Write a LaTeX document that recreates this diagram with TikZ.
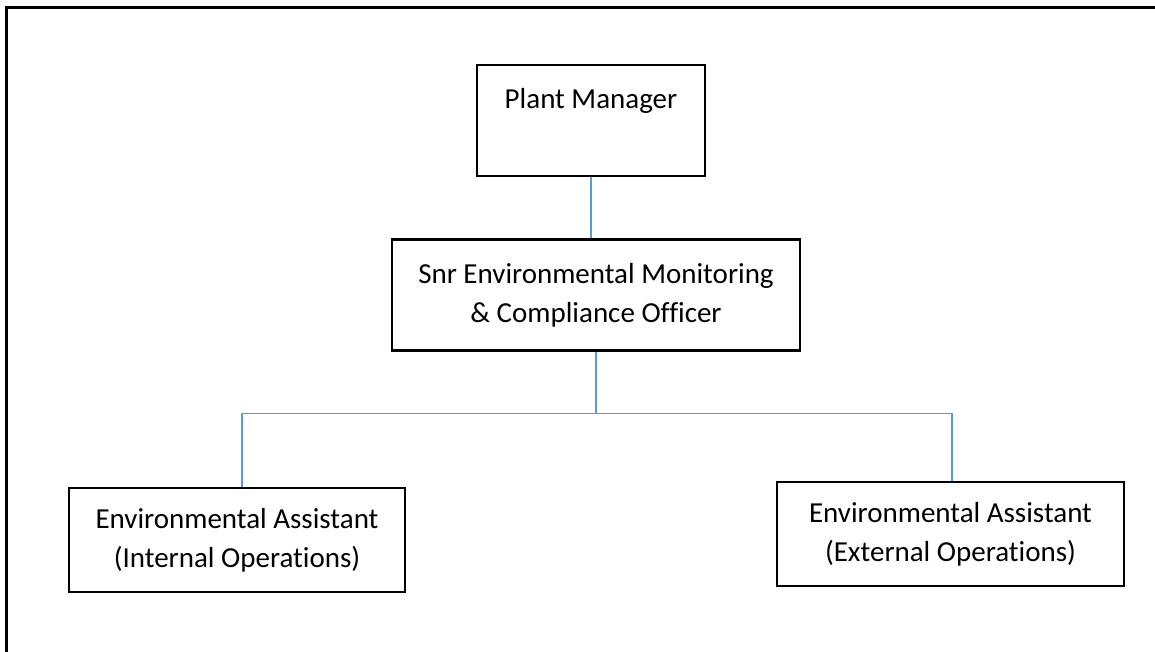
\documentclass[tikz,border=0pt]{standalone}
\usepackage{fontspec}
\setmainfont{Carlito}[Ligatures=NoCommon]
\usepackage{xcolor}
\usepackage{tikz}
\usetikzlibrary{positioning}
\definecolor{linkblue}{RGB}{91,155,213}

\begin{document}
\begin{tikzpicture}[
  x=1pt, y=-1pt,
  every node/.style={font=\fontsize{29}{39}\selectfont},
  box/.style={draw=black, line width=2.9pt, align=center, inner sep=0pt, fill=white},
  link/.style={draw=linkblue, line width=1.4pt}
]
\useasboundingbox (0,0) rectangle (1155,651);
% page frame
\draw[line width=2.6pt] (6.5,670) -- (6.5,7.5) -- (1170,7.5);

\node[box, minimum width=228pt, text height=43pt, text depth=68pt] (pm) at (591,120.5) {Plant Manager};
\node[box, minimum width=408pt, minimum height=111pt, below=61pt of pm, xshift=5pt] (snr) {Snr Environmental Monitoring\\ \& Compliance Officer};
\node[box, minimum width=336pt, minimum height=104pt] (eaint) at (237,540) {Environmental Assistant\\ (Internal Operations)};
\node[box, minimum width=347pt, minimum height=104pt] (eaext) at (950.5,534) {Environmental Assistant\\ (External Operations)};

\draw[link] (pm) -- (pm |- snr.north);
\draw[link] (snr.south) -- ++(0,61) coordinate (bus);
\draw[link] (bus) -| ([xshift=5pt]eaint.north);
\draw[link] (bus) -| ([xshift=1.5pt]eaext.north);
\end{tikzpicture}
\end{document}
